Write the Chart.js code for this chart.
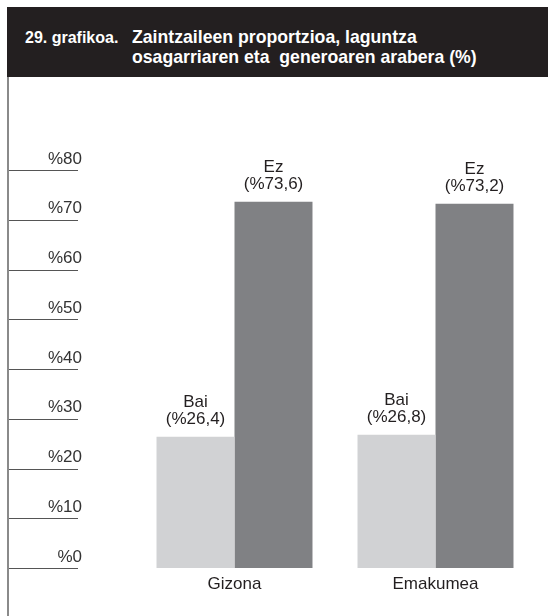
<!DOCTYPE html>
<html>
<head>
<meta charset="utf-8">
<script src="https://cdn.jsdelivr.net/npm/chart.js@4"></script>
<style>
  body { margin: 0; background: #fff; }
  #wrap { position: relative; width: 548px; height: 616px; overflow: hidden; }
  #cabecera {
    position: absolute; left: 7px; top: 7px; width: 541px; height: 70px;
    background: #231f20; color: #fff;
    font-family: "Liberation Sans Narrow", "Liberation Sans", sans-serif; font-weight: bold;
  }
  #num { position: absolute; left: 18px; top: 22px; font-size: 16px; }
  #titulo {
    position: absolute; left: 125px; top: 20px; font-size: 19px; line-height: 20px;
    white-space: nowrap; transform: scaleX(0.93); transform-origin: left top;
  }
  #borde { position: absolute; left: 7px; top: 77px; width: 2px; height: 539px; background: #8a8a8a; }
  canvas { position: absolute; left: 0; top: 0; }
</style>
</head>
<body>
<div id="wrap">
  <canvas id="grafico" width="548" height="616"></canvas>
  <div id="cabecera">
    <span id="num">29. grafikoa.</span>
    <div id="titulo">Zaintzaileen proportzioa, laguntza<br>osagarriaren eta&nbsp; generoaren arabera (%)</div>
  </div>
  <div id="borde"></div>
</div>
<script>
// Datuak
const categorias = ['Gizona', 'Emakumea'];
const series = ['Bai', 'Ez'];
const valoresBai = [26.4, 26.8];
const valoresEz = [73.6, 73.2];
const ticksY = [0, 10, 20, 30, 40, 50, 60, 70, 80];

const fuente = '"Liberation Sans", sans-serif';

// Etiquetas encima de cada barra: nombre de la serie y (%valor)
const etiquetasBarras = {
  id: 'etiquetasBarras',
  afterDatasetsDraw(chart) {
    const ctx = chart.ctx;
    ctx.save();
    ctx.fillStyle = '#231f20';
    ctx.font = '17px ' + fuente;
    ctx.textAlign = 'center';
    ctx.textBaseline = 'alphabetic';
    chart.data.datasets.forEach((ds, i) => {
      chart.getDatasetMeta(i).data.forEach((bar, j) => {
        const txt = '(%' + ds.data[j].toFixed(1).replace('.', ',') + ')';
        ctx.fillText(ds.label, bar.x, bar.y - 30);
        ctx.fillText(txt, bar.x, bar.y - 13);
      });
    });
    ctx.restore();
  }
};

// Rayas cortas bajo cada etiqueta del eje Y
const rayasEje = {
  id: 'rayasEje',
  afterDraw(chart) {
    const ctx = chart.ctx;
    const y = chart.scales.y;
    ctx.save();
    ctx.strokeStyle = '#555';
    ctx.lineWidth = 1.2;
    ticksY.forEach(v => {
      const py = Math.round(y.getPixelForValue(v)) + 0.5;
      ctx.beginPath();
      ctx.moveTo(7, py);
      ctx.lineTo(78, py);
      ctx.stroke();
    });
    ctx.restore();
  }
};

const config = {
  type: 'bar',
  data: {
    labels: categorias,
    datasets: [
      { label: series[0], data: valoresBai, backgroundColor: '#d1d2d4' },
      { label: series[1], data: valoresEz, backgroundColor: '#808184' }
    ]
  },
  options: {
    responsive: false,
    animation: false,
    layout: { padding: { top: 170, right: 12, left: 0, bottom: 0 } },
    plugins: { legend: { display: false }, tooltip: { enabled: false } },
    datasets: { bar: { categoryPercentage: 0.776, barPercentage: 1 } },
    scales: {
      x: {
        grid: { display: false, drawTicks: false },
        border: { display: false },
        ticks: { color: '#231f20', font: { family: fuente, size: 17 }, padding: 6 },
        afterFit(s) { s.height = 48; s.paddingLeft = 0; s.paddingRight = 0; }
      },
      y: {
        min: 0, max: 80,
        grid: { display: false, drawTicks: false },
        border: { display: false },
        ticks: {
          stepSize: 10,
          color: '#333',
          font: { family: fuente, size: 17 },
          padding: 52,
          labelOffset: -11,
          callback: v => '%' + v
        },
        afterFit(s) { s.width = 134; s.paddingTop = 0; s.paddingBottom = 0; }
      }
    }
  },
  plugins: [etiquetasBarras, rayasEje]
};

new Chart(document.getElementById('grafico'), config);
</script>
</body>
</html>
